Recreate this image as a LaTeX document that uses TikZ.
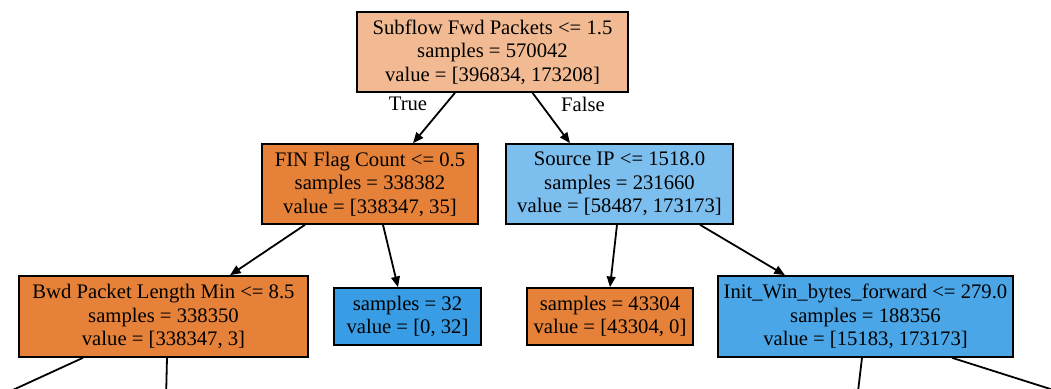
\documentclass[tikz,border=0pt]{standalone}
\usepackage{fontspec}
\setmainfont{Liberation Serif}
\usetikzlibrary{arrows.meta,calc}

\definecolor{rootfill}{HTML}{F2BA92}
\definecolor{orangefull}{HTML}{E58139}
\definecolor{bluefull}{HTML}{399DE5}
\definecolor{bluemid}{HTML}{7CBEEE}
\definecolor{bluedeep}{HTML}{4AA6E7}

\tikzset{
  treebox/.style={draw=black, line width=1.2pt, rectangle, inner sep=0pt,
    align=center, font=\fontsize{15.5}{17.6}\selectfont, text=black},
  edgeline/.style={line width=1.35pt, draw=black,
    -{Triangle[length=8pt,width=6.5pt]}},
  branchlabel/.style={font=\fontsize{15.5}{17.6}\selectfont, inner sep=0pt}
}

\begin{document}
\begin{tikzpicture}[x=0.75pt,y=-0.75pt]
  \useasboundingbox (0,0) rectangle (1051,389);
  \clip (0,0) rectangle (1051,389);

  % decision nodes and leaves
  \node[treebox, fill=rootfill, minimum width=271*0.75pt, minimum height=80*0.75pt]
    (root) at (492.5,52) {Subflow Fwd Packets <= 1.5\\samples = 570042\\value = [396834, 173208]};
  \node[treebox, fill=orangefull, minimum width=216*0.75pt, minimum height=80*0.75pt]
    (fin) at (370,184) {FIN Flag Count <= 0.5\\samples = 338382\\value = [338347, 35]};
  \node[treebox, fill=bluemid, minimum width=227*0.75pt, minimum height=80*0.75pt]
    (src) at (619.5,184) {Source IP <= 1518.0\\samples = 231660\\value = [58487, 173173]};
  \node[treebox, fill=orangefull, minimum width=289*0.75pt, minimum height=81*0.75pt]
    (bwd) at (163.5,316.5) {Bwd Packet Length Min <= 8.5\\samples = 338350\\value = [338347, 3]};
  \node[treebox, fill=bluefull, minimum width=147*0.75pt, minimum height=57*0.75pt]
    (leafa) at (407.5,316.5) {samples = 32\\value = [0, 32]};
  \node[treebox, fill=orangefull, minimum width=166*0.75pt, minimum height=57*0.75pt]
    (leafb) at (610,316.5) {samples = 43304\\value = [43304, 0]};
  \node[treebox, fill=bluedeep, minimum width=295*0.75pt, minimum height=81*0.75pt]
    (init) at (865.5,316.5) {Init\_Win\_bytes\_forward <= 279.0\\samples = 188356\\value = [15183, 173173]};

  % branch labels
  \node[branchlabel] (ltrue) at (408,104) {True};
  \node[branchlabel] (lfalse) at (583,104) {False};

  % children running past the lower edge
  \coordinate (bwdl) at (-9,400);
  \coordinate (bwdr) at (166,400);
  \coordinate (initl) at (857,400);
  \coordinate (initr) at (1085,400);

  % connectors
  \draw[edgeline] ($(root.south)+(-37.5,0)$) -- ($(fin.north)+(43,0)$);
  \draw[edgeline] ($(root.south)+(40,0)$) -- ($(src.north)+(-49.5,0)$);
  \draw[edgeline] ($(fin.south)+(-65,0)$) -- ($(bwd.north)+(66.5,0)$);
  \draw[edgeline] ($(fin.south)+(13,0)$) -- ($(leafa.north)+(-9.5,0)$);
  \draw[edgeline] ($(src.south)+(-2.5,0)$) -- (leafb.north);
  \draw[edgeline] ($(src.south)+(80.5,0)$) -- ($(init.north)+(-80.5,0)$);
  \draw[edgeline] ($(bwd.south)+(-80.5,0)$) -- (bwdl);
  \draw[edgeline] ($(bwd.south)+(3.5,0)$) -- (bwdr);
  \draw[edgeline] ($(init.south)+(-3.5,0)$) -- (initl);
  \draw[edgeline] ($(init.south)+(86.5,0)$) -- (initr);
\end{tikzpicture}
\end{document}
